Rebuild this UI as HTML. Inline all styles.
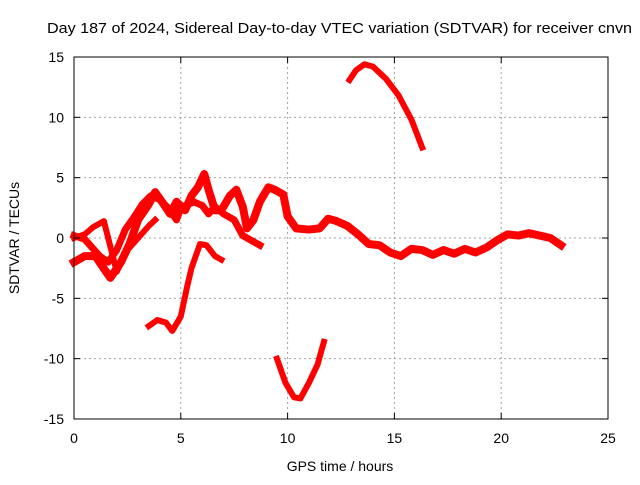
<!DOCTYPE html>
<html><head><meta charset="utf-8"><style>
body{margin:0;background:#fff}
svg{font-family:"Liberation Sans",sans-serif;font-size:14px}
</style></head><body>
<svg width="640" height="480" viewBox="0 0 640 480">
<rect width="640" height="480" fill="#fff"/>
<text x="47" y="33" font-size="15" textLength="585" lengthAdjust="spacingAndGlyphs">Day 187 of 2024, Sidereal Day-to-day VTEC variation (SDTVAR) for receiver cnvn</text>
<g id="grid"></g>
<g id="series"></g>
<rect x="74" y="57" width="534" height="362" fill="none" stroke="#000" stroke-width="1"/>
<g id="ticks"></g>
<text x="340" y="471" text-anchor="middle">GPS time / hours</text>
<text transform="translate(19,238) rotate(-90)" text-anchor="middle">SDTVAR / TECUs</text>
</svg>
<script>
const xTicks=[0,5,10,15,20,25];
const yTicks=[15,10,5,0,-5,-10,-15];
const s1h=[0,0.5,1.0,1.5,1.7,2.2,2.6,3.0,3.5,3.8,4.2,4.5,4.8,5.2,5.5,5.8,6.1,6.3,6.6,6.9,7.3,7.6,7.9,8.1,8.4,8.7,9.1,9.4,9.8,10.0,10.4,11.0,11.5,11.9,12.3,12.8,13.3,13.8,14.3,14.8,15.3,15.8,16.3,16.8,17.3,17.8,18.3,18.8,19.3,19.8,20.3,20.8,21.3,21.8,22.3,22.8];
const s1v=[-2,-1.5,-1.5,-2.8,-3.3,-2,-0.5,1.5,2.8,3.8,2.8,2,3,2.3,3.5,4.2,5.3,4,2.3,2.3,3.5,4,2.6,0.8,1.5,3,4.2,4,3.6,1.8,0.8,0.7,0.8,1.6,1.4,1.0,0.3,-0.5,-0.6,-1.2,-1.5,-0.9,-1,-1.4,-1.0,-1.3,-0.9,-1.2,-0.8,-0.2,0.3,0.2,0.4,0.2,0.0,-0.6];
const s2h=[0,0.5,0.6,1.2,1.6,2.0,2.4,2.8,3.2,3.6,4.0,4.4,4.8,5.0,5.6,6.0,6.3,6.6,7.0,7.5,7.9,8.3,8.7];
const s2v=[0.2,-0.1,-0.3,-1.5,-2,-1,0.7,1.7,2.8,3.5,3.2,2.5,1.5,2.5,3,2.7,2,2.6,2,1.5,0.2,-0.2,-0.6];
const s3h=[0,0.5,0.9,1.4,2.0,2.5,3.0,3.5,3.8];
const s3v=[0,0.3,0.9,1.4,-2.8,-1,0,1,1.5];
const s4h=[3.5,3.9,4.3,4.6,5.0,5.3,5.5,5.9,6.2,6.6,6.9];
const s4v=[-7.3,-6.8,-7,-7.7,-6.5,-4,-2.5,-0.5,-0.6,-1.5,-1.8];
const s5h=[9.5,9.9,10.3,10.6,11.0,11.4,11.7];
const s5v=[-10,-12,-13.2,-13.3,-12,-10.5,-8.6];
const s6h=[12.9,13.2,13.6,14.0,14.6,15.2,15.8,16.3];
const s6v=[13.1,13.9,14.4,14.2,13.2,11.8,9.8,7.5];
const X=h=>74+h*534/25, Y=v=>238-v*362/30;
const NS="http://www.w3.org/2000/svg";
const grid=document.getElementById('grid'),ticks=document.getElementById('ticks'),ser=document.getElementById('series');
function mk(t,a,p){const e=document.createElementNS(NS,t);for(const k in a)e.setAttribute(k,a[k]);p.appendChild(e);return e;}
xTicks.forEach(t=>{const x=X(t);
 const g=mk('line',{x1:x,x2:x,y1:57,y2:419,stroke:'#a0a0a0','stroke-dasharray':'2,3'},grid);
 
 
 mk('line',{x1:x,x2:x,y1:419,y2:413,stroke:'#000'},ticks);
 mk('line',{x1:x,x2:x,y1:57,y2:63,stroke:'#000'},ticks);
 const l=mk('text',{x:x,y:443,'text-anchor':'middle'},ticks);l.textContent=t;
 
 
});
yTicks.forEach(t=>{const y=Y(t);
 const g=mk('line',{x1:74,x2:608,y1:y,y2:y,stroke:'#a0a0a0','stroke-dasharray':'2,3'},grid);
 
 
 mk('line',{x1:74,x2:80,y1:y,y2:y,stroke:'#000'},ticks);
 mk('line',{x1:608,x2:602,y1:y,y2:y,stroke:'#000'},ticks);
 const l=mk('text',{x:64,y:y+5,'text-anchor':'end'},ticks);l.textContent=t;
 
 
});
[[s1h,s1v,8],[s2h,s2v,7],[s3h,s3v,6],[s4h,s4v,6],[s5h,s5v,6],[s6h,s6v,6]].forEach((s,i)=>{
 const pts=s[0].map((h,j)=>X(h)+','+Y(s[1][j])).join(' ');
 const p=mk('polyline',{points:pts,fill:'none',stroke:'#ff0000','stroke-width':s[2],'stroke-linejoin':'round','stroke-linecap':'square'},ser);
 
 
});
</script>
</body></html>
